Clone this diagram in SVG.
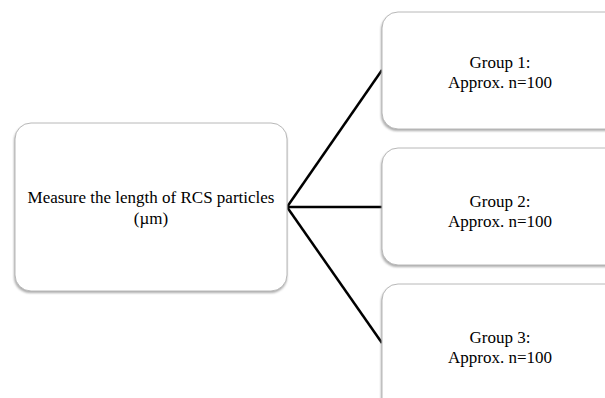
<svg xmlns="http://www.w3.org/2000/svg" width="605" height="398" viewBox="0 0 605 398">
<style>
.box{fill:#ffffff;stroke:#b8b8b8;stroke-width:1}
.shadow{fill:#8a8a8a;opacity:0.7}
.t{font-family:"Liberation Serif","Times New Roman",serif;font-size:17px;fill:#000;text-anchor:middle}
.c{stroke:#000;stroke-width:2.5;fill:none}
</style>
<defs>
<filter id="blur" x="-5%" y="-5%" width="110%" height="115%"><feGaussianBlur stdDeviation="0.8"/></filter>
</defs>
<rect width="605" height="398" fill="#ffffff"/>
<g id="connectors">
<line class="c" x1="287" y1="207" x2="382" y2="70"/>
<line class="c" x1="287" y1="207" x2="382" y2="207"/>
<line class="c" x1="287" y1="207" x2="382" y2="343"/>
</g>
<g id="node-measure">
<rect class="shadow" x="14" y="125" width="273" height="168" rx="16" filter="url(#blur)"/>
<rect class="box" x="15" y="123" width="272" height="168" rx="16"/>
<text class="t" x="151" y="203">Measure the length of RCS particles</text>
<text class="t" x="151" y="224">(µm)</text>
</g>
<g id="node-group1">
<rect class="shadow" x="381" y="14" width="240" height="117" rx="16" filter="url(#blur)"/>
<rect class="box" x="382" y="12" width="240" height="117" rx="16"/>
<text class="t" x="500" y="68">Group 1:</text>
<text class="t" x="500" y="88">Approx. n=100</text>
</g>
<g id="node-group2">
<rect class="shadow" x="381" y="150" width="240" height="117" rx="16" filter="url(#blur)"/>
<rect class="box" x="382" y="148" width="240" height="117" rx="16"/>
<text class="t" x="500" y="207">Group 2:</text>
<text class="t" x="500" y="227">Approx. n=100</text>
</g>
<g id="node-group3">
<rect class="shadow" x="381" y="286" width="240" height="130" rx="16" filter="url(#blur)"/>
<rect class="box" x="382" y="284" width="240" height="130" rx="16"/>
<text class="t" x="500" y="343">Group 3:</text>
<text class="t" x="500" y="363">Approx. n=100</text>
</g>
</svg>
